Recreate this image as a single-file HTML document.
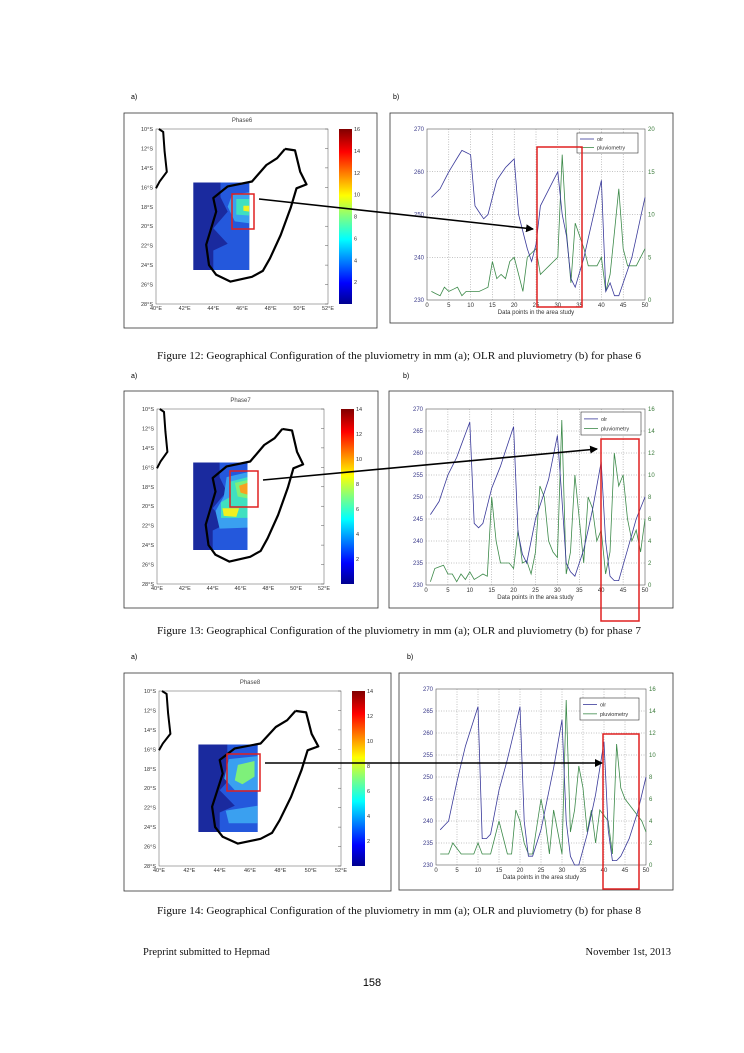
<!DOCTYPE html>
<html><head><meta charset="utf-8"><style>
html,body{margin:0;padding:0;background:#fff}
svg{display:block}
text{font-family:"Liberation Sans",sans-serif}
.cap{font-family:"Liberation Serif",serif;font-size:10.5px;fill:#111}
</style></head><body>
<svg id="s" width="744" height="1053" viewBox="0 0 744 1053" xmlns="http://www.w3.org/2000/svg">
<defs>
<linearGradient id="jet" x1="0" y1="1" x2="0" y2="0">
<stop offset="0" stop-color="#00008f"/><stop offset="0.12" stop-color="#0000ff"/><stop offset="0.37" stop-color="#00ffff"/><stop offset="0.5" stop-color="#80ff80"/><stop offset="0.62" stop-color="#ffff00"/><stop offset="0.87" stop-color="#ff0000"/><stop offset="1" stop-color="#800000"/>
</linearGradient>
<marker id="ah" markerWidth="8" markerHeight="8" refX="7" refY="4" orient="auto" markerUnits="userSpaceOnUse"><path d="M0,0 L8,4 L0,8 z" fill="#000"/></marker>
</defs>
<g id="root"></g>
<text x="131" y="99" font-size="7">a)</text>
<text x="393" y="99" font-size="7">b)</text>
<text x="131" y="378" font-size="7">a)</text>
<text x="403" y="378" font-size="7">b)</text>
<text x="131" y="659" font-size="7">a)</text>
<text x="407" y="659" font-size="7">b)</text>
<text class="cap" x="157" y="359" textLength="484" lengthAdjust="spacingAndGlyphs">Figure 12: Geographical Configuration of the pluviometry in mm (a); OLR and pluviometry (b) for phase 6</text>
<text class="cap" x="157" y="634" textLength="484" lengthAdjust="spacingAndGlyphs">Figure 13: Geographical Configuration of the pluviometry  in mm (a); OLR and pluviometry (b) for phase 7</text>
<text class="cap" x="157" y="914" textLength="484" lengthAdjust="spacingAndGlyphs">Figure 14: Geographical Configuration of the pluviometry in mm (a); OLR and pluviometry (b) for phase 8</text>
<text class="cap" x="143" y="955" font-size="11">Preprint submitted to Hepmad</text>
<text class="cap" x="671" y="955" font-size="11" text-anchor="end">November 1st, 2013</text>
<text x="372" y="986" font-size="11" text-anchor="middle" font-family="Liberation Sans">158</text>
</svg>
<script>
var NS="http://www.w3.org/2000/svg",root=document.getElementById("root");
function el(t,a,txt){var e=document.createElementNS(NS,t);for(var k in a)e.setAttribute(k,a[k]);if(txt!==undefined)e.textContent=txt;root.appendChild(e);return e;}
function interp(keys){var o=[];for(var x=1;x<=50;x++){for(var i=0;i<keys.length-1;i++){var a=keys[i],b=keys[i+1];if(x>=a[0]&&x<=b[0]){o.push([x,a[1]+(b[1]-a[1])*(x-a[0])/(b[0]-a[0]||1)]);break;}}}return o;}
var mada=[[49,12.05],[49.7,12.2],[50.06,14.4],[50.5,15.7],[49.8,16.1],[49.4,18.1],[48.7,20.9],[47.95,23.3],[47.45,24.6],[46.7,25.2],[45.2,25.7],[44.2,25],[43.7,24],[43.5,21.9],[43.85,20.2],[44.2,18.5],[44,17.1],[45,15.9],[46.7,15.4],[47.7,13.7],[48.45,13.0]];
var afr=[[40.2,10],[40.5,10.3],[40.6,12.3],[40.75,14.4],[40.25,15.4],[40,16.1]];
function mapPanel(f){
 el("rect",{x:f.bx,y:f.by,width:f.bw,height:f.bh,fill:"#fff",stroke:"#333","stroke-width":0.8});
 var X=function(l){return f.x0+(l-40)*(f.x1-f.x0)/12},Y=function(l){return f.y0+(l-10)*(f.y1-f.y0)/18};
 var P=function(a){return a.map(function(p){return X(p[0]).toFixed(1)+","+Y(p[1]).toFixed(1)}).join(" ")};
 el("text",{x:(f.x0+f.x1)/2,y:f.y0-7,"font-size":6,"text-anchor":"middle",fill:"#444"},f.title);
 el("rect",{x:f.x0,y:f.y0,width:f.x1-f.x0,height:f.y1-f.y0,fill:"none",stroke:"#555","stroke-width":0.5});
 el("polygon",{points:P([[42.6,15.5],[46.5,15.5],[46.5,24.5],[42.6,24.5]]),fill:"#1a2a9e"});
 el("polygon",{points:P([[44.5,15.5],[46.5,15.5],[46.5,24.5],[44,24.5],[44,22.5],[45,21.8],[44,20.2],[45,18.5],[44.5,17]]),fill:"#2458dc"});
 f.fills.forEach(function(q){el("polygon",{points:P(q[1]),fill:q[0]});});
 el("polyline",{points:P(mada.concat([mada[0]])),fill:"none",stroke:"#000","stroke-width":2.2,"stroke-linejoin":"round"});
 el("polyline",{points:P(afr),fill:"none",stroke:"#000","stroke-width":2});
 for(var i=0;i<=9;i++){var lat=10+2*i,y=Y(lat);el("text",{x:f.x0-3,y:y+2,"font-size":5.5,"text-anchor":"end",fill:"#333"},lat+"°S");
  el("line",{x1:f.x1-3,y1:y,x2:f.x1,y2:y,stroke:"#555","stroke-width":0.5});}
 for(var i=0;i<=6;i++){var lon=40+2*i,x=X(lon);el("text",{x:x,y:f.y1+6,"font-size":5.5,"text-anchor":"middle",fill:"#333"},lon+"°E");}
 el("rect",{x:f.cx,y:f.y0,width:13,height:f.y1-f.y0,fill:"url(#jet)"});
 var n=f.cmax/2;for(var i=1;i<=n;i++){var y=f.y1-(2*i)*(f.y1-f.y0)/f.cmax;el("text",{x:f.cx+15,y:y+2,"font-size":5.5,fill:"#333"},2*i);}
 el("rect",{x:f.rx,y:f.ry,width:f.rw,height:f.rh,fill:"none",stroke:"#e02020","stroke-width":1.5});
}
function linePanel(f){
 el("rect",{x:f.bx,y:f.by,width:f.bw,height:f.bh,fill:"#fff",stroke:"#333","stroke-width":0.8});
 var X=function(v){return f.x0+v*(f.x1-f.x0)/50},Y=function(v){return f.y1-(v-230)*(f.y1-f.y0)/40},Y2=function(v){return f.y1-v*(f.y1-f.y0)/f.rmax};
 el("rect",{x:f.x0,y:f.y0,width:f.x1-f.x0,height:f.y1-f.y0,fill:"#fff",stroke:"#555","stroke-width":0.6});
 for(var i=0;i<=10;i++){var x=X(5*i);if(i>0&&i<10)el("line",{x1:x,y1:f.y0,x2:x,y2:f.y1,stroke:"#888","stroke-width":0.5,"stroke-dasharray":"1,1.5"});
  el("text",{x:x,y:f.y1+7,"font-size":6,"text-anchor":"middle",fill:"#333"},5*i);}
 for(var v=230;v<=270;v+=f.ls){var y=Y(v);if(v>230&&v<270)el("line",{x1:f.x0,y1:y,x2:f.x1,y2:y,stroke:"#888","stroke-width":0.5,"stroke-dasharray":"1,1.5"});
  el("text",{x:f.x0-3,y:y+2,"font-size":6,"text-anchor":"end",fill:"#3a3a8a"},v);}
 for(var v=0;v<=f.rmax;v+=f.rs){el("text",{x:f.x1+3,y:Y2(v)+2,"font-size":6,fill:"#3a7a3a"},v);}
 el("text",{x:(f.x0+f.x1)/2,y:f.y1+14,"font-size":6,"text-anchor":"middle",fill:"#333"},"Data points in the area study");
 var o=interp(f.olr).map(function(p){return X(p[0]).toFixed(1)+","+Y(p[1]).toFixed(1)}).join(" ");
 var pl=interp(f.plu).map(function(p){return X(p[0]).toFixed(1)+","+Y2(p[1]).toFixed(1)}).join(" ");
 el("polyline",{points:pl,fill:"none",stroke:"#3d8a4a","stroke-width":0.8});
 el("polyline",{points:o,fill:"none",stroke:"#3a3a9a","stroke-width":0.8});
 el("rect",{x:f.lx,y:f.ly,width:f.lw,height:f.lh,fill:"#fff",stroke:"#333","stroke-width":0.6});
 el("line",{x1:f.lx+3,y1:f.ly+f.lh*0.3,x2:f.lx+17,y2:f.ly+f.lh*0.3,stroke:"#3a3a9a","stroke-width":0.8});
 el("line",{x1:f.lx+3,y1:f.ly+f.lh*0.72,x2:f.lx+17,y2:f.ly+f.lh*0.72,stroke:"#3d8a4a","stroke-width":0.8});
 el("text",{x:f.lx+20,y:f.ly+f.lh*0.3+2,"font-size":5.5,fill:"#333"},"olr");
 el("text",{x:f.lx+20,y:f.ly+f.lh*0.72+2,"font-size":5.5,fill:"#333"},"pluviometry");
 el("rect",{x:f.rx,y:f.ry,width:f.rw,height:f.rh,fill:"none",stroke:"#e02020","stroke-width":1.5});
}
var lb="#3aa0f0",cy="#40e0c0",gr="#7ef07a",ye="#f0f020",or="#f8a020";
mapPanel({bx:124,by:113,bw:253,bh:215,x0:156,x1:328,y0:129,y1:304,cx:339,cmax:16,title:"Phase6",
 rx:232,ry:194,rw:22,rh:35,fills:[[lb,[[45.3,16.8],[46.5,16.5],[46.5,19.7],[45.5,19.5],[45,18]]],[cy,[[45.6,17.2],[46.5,17.2],[46.5,18.9],[45.6,18.8]]],[ye,[[46.1,17.9],[46.5,17.9],[46.5,18.5],[46.1,18.4]]]]});
linePanel({bx:390,by:113,bw:283,bh:210,x0:427,x1:645,y0:129,y1:300,rmax:20,rs:5,ls:10,lx:577,ly:133,lw:61,lh:20,rx:537,ry:147,rw:45,rh:160,
 olr:[[1,254],[3,256],[5,260],[8,265],[10,264],[11,252],[13,249],[14,250],[16,258],[18,261],[20,263],[21,250],[23,242],[24,239],[25,243],[26,252],[30,260],[31,250],[32,245],[33,235],[34,233],[36,240],[40,258],[41,232],[42,234],[43,231],[44,231],[47,240],[50,254]],
 plu:[[1,1],[3,0.5],[4,1.5],[5,1],[7,1.5],[8,0.5],[9,1],[12,1],[14,1.5],[15,4.5],[16,2.5],[17,3],[18,2.5],[19,4.5],[20,5],[21,3],[22,1],[23,5],[24,5.5],[25,6],[26,3],[28,4],[30,5],[31,17],[32,8],[33,2],[34,9],[36,6],[37,4],[39,4],[40,5],[41,1],[42,3],[44,13],[45,6],[46,4],[48,4],[50,6]]});
el("line",{x1:259,y1:199,x2:533,y2:229,stroke:"#000","stroke-width":1.6,"marker-end":"url(#ah)"});
mapPanel({bx:124,by:391,bw:254,bh:217,x0:157,x1:324,y0:409,y1:584,cx:341,cmax:14,title:"Phase7",
 rx:230,ry:471,rw:28,rh:36,fills:[[lb,[[45,17],[46.5,16.5],[46.5,22.2],[44.5,22.3],[44.2,20.5],[44.8,19]]],[cy,[[45.2,17.5],[46.5,17],[46.5,21.2],[44.6,21.2],[44.6,19.6],[45.3,19]]],[ye,[[44.7,20.2],[45.9,20.2],[45.7,21.1],[44.8,21]]],[gr,[[45.6,17.6],[46.5,17.3],[46.5,19.2],[45.8,19]]],[or,[[45.9,17.9],[46.5,17.6],[46.5,18.8],[46,18.6]]]]});
linePanel({bx:389,by:391,bw:284,bh:217,x0:426,x1:645,y0:409,y1:585,rmax:16,rs:2,ls:5,lx:581,ly:412,lw:60,lh:23,rx:601,ry:439,rw:38,rh:182,
 olr:[[1,246],[3,249],[5,255],[7,259],[10,267],[11,244],[12,243],[13,244],[15,252],[17,257],[20,266],[21,242],[22,237],[23,235],[25,245],[28,254],[30,264],[31,250],[32,235],[33,233],[34,232],[36,238],[38,247],[40,258],[41,240],[42,232],[43,231],[44,231],[46,238],[48,245],[50,250]],
 plu:[[1,0.3],[2,1.5],[4,1.8],[5,1],[6,1],[7,0.3],[8,1],[9,0.5],[10,1.2],[11,0.5],[13,1],[14,0.8],[15,8],[16,4],[17,2],[18,2],[19,2],[20,1.5],[21,5],[22,2],[23,2.2],[24,1],[25,3],[26,9],[27,8],[28,4],[29,3],[30,2.5],[31,15],[32,1],[33,3],[34,10],[35,6],[36,2],[37,8],[38,7],[39,4],[40,5],[41,1],[42,3],[43,12],[44,9],[45,10],[46,6],[47,4],[48,5],[49,3],[50,6]]});
el("line",{x1:263,y1:480,x2:597,y2:449,stroke:"#000","stroke-width":1.6,"marker-end":"url(#ah)"});
mapPanel({bx:124,by:673,bw:267,bh:218,x0:159,x1:341,y0:691,y1:866,cx:352,cmax:14,title:"Phase8",
 rx:227,ry:754,rw:33,rh:37,fills:[[lb,[[44.6,17],[46.5,16.7],[46.5,20.2],[45,20.2],[44.3,19]]],[lb,[[44.4,22.3],[46.5,21.8],[46.5,23.6],[44.6,23.6]]],[gr,[[45.2,17.6],[46.3,17.2],[46.3,18.8],[45.5,19.6],[45,19.2]]]]});
linePanel({bx:399,by:673,bw:274,bh:217,x0:436,x1:646,y0:689,y1:865,rmax:16,rs:2,ls:5,lx:580,ly:698,lw:59,lh:22,rx:603,ry:734,rw:36,rh:155,
 olr:[[1,238],[3,240],[5,249],[7,257],[10,266],[11,236],[12,236],[13,237],[15,247],[17,254],[20,266],[21,240],[22,232],[23,232],[25,238],[28,252],[30,263],[31,240],[32,232],[33,230],[34,230],[36,237],[38,246],[40,258],[41,238],[42,231],[43,231],[44,232],[46,236],[48,242],[50,250]],
 plu:[[1,1],[3,1],[4,2],[5,1.5],[6,1],[9,1],[10,2],[11,1],[13,1],[15,4],[17,1],[18,1],[19,5],[20,4],[21,2],[22,1],[23,1],[25,6],[26,4],[27,1],[28,5],[29,3],[30,1],[31,15],[32,3],[33,5],[34,9],[35,7],[36,3],[37,5],[38,2],[39,5],[40,4.5],[41,4],[42,1],[43,11],[44,7],[45,6],[47,5],[49,4],[50,3]]});
el("line",{x1:265,y1:763,x2:602,y2:763,stroke:"#000","stroke-width":1.6,"marker-end":"url(#ah)"});
</script>
</body></html>
